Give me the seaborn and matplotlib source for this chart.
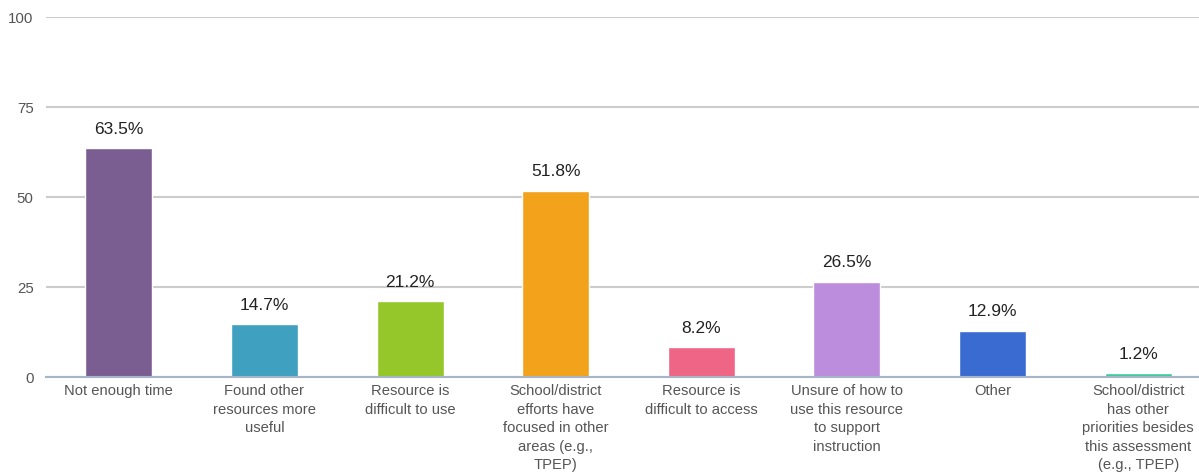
import matplotlib
matplotlib.use("Agg")
import matplotlib.pyplot as plt
import seaborn as sns
import pandas as pd
import numpy as np
from matplotlib.ticker import FixedLocator

categories = [
    "Not enough time",
    "Found other\nresources more\nuseful",
    "Resource is\ndifficult to use",
    "School/district\nefforts have\nfocused in other\nareas (e.g.,\nTPEP)",
    "Resource is\ndifficult to access",
    "Unsure of how to\nuse this resource\nto support\ninstruction",
    "Other",
    "School/district\nhas other\npriorities besides\nthis assessment\n(e.g., TPEP)",
]
values = [63.5, 14.7, 21.2, 51.8, 8.2, 26.5, 12.9, 1.2]
colors = ["#7b5e91", "#3fa0bf", "#95c72b", "#f2a21b",
          "#ef6585", "#bc8ddd", "#3a6bd1", "#3ccb9a"]
y_ticks = [0, 25, 50, 75, 100]

df = pd.DataFrame({"reason": categories, "pct": values})

sns.set_theme(style="white")
plt.rcParams["font.family"] = ["Liberation Sans", "DejaVu Sans"]

fig = plt.figure(figsize=(11.99, 4.73), dpi=100)
ax = fig.add_axes([46 / 1199, 96 / 473, 1165 / 1199, 360 / 473])

sns.barplot(data=df, x="reason", y="pct", hue="reason", palette=colors,
            width=0.46, saturation=1, legend=False, ax=ax)

for cont in ax.containers:
    ax.bar_label(cont, labels=[f"{v:.1f}%" for v in cont.datavalues],
                 padding=8, fontsize=12.5, color="#222222")

ax.set_ylim(0, 100)
ax.set_xlim(-0.5, len(categories) - 0.5)
ax.set_yticks(y_ticks)
ax.set_yticklabels([str(t) for t in y_ticks], color="#555555", fontsize=10.8)
ax.yaxis.grid(True, color="#cccccc", linewidth=1.5)
ax.set_axisbelow(True)
ax.tick_params(axis="y", length=0, pad=9)

ax.tick_params(axis="x", which="major", length=0, pad=5,
               labelsize=10.6, labelcolor="#555555")
for lab in ax.get_xticklabels():
    lab.set_linespacing(1.42)
ax.xaxis.set_minor_locator(FixedLocator(np.arange(0.5, len(categories) - 0.5, 1)))
ax.tick_params(axis="x", which="minor", length=6, width=1, color="#a8b4c8",
               direction="out")

ax.set_xlabel("")
ax.set_ylabel("")
for side in ["top", "right", "left"]:
    ax.spines[side].set_visible(False)
ax.spines["bottom"].set_color("#a8b4c8")
ax.spines["bottom"].set_linewidth(1.5)

fig.savefig("out.png", dpi=100)
